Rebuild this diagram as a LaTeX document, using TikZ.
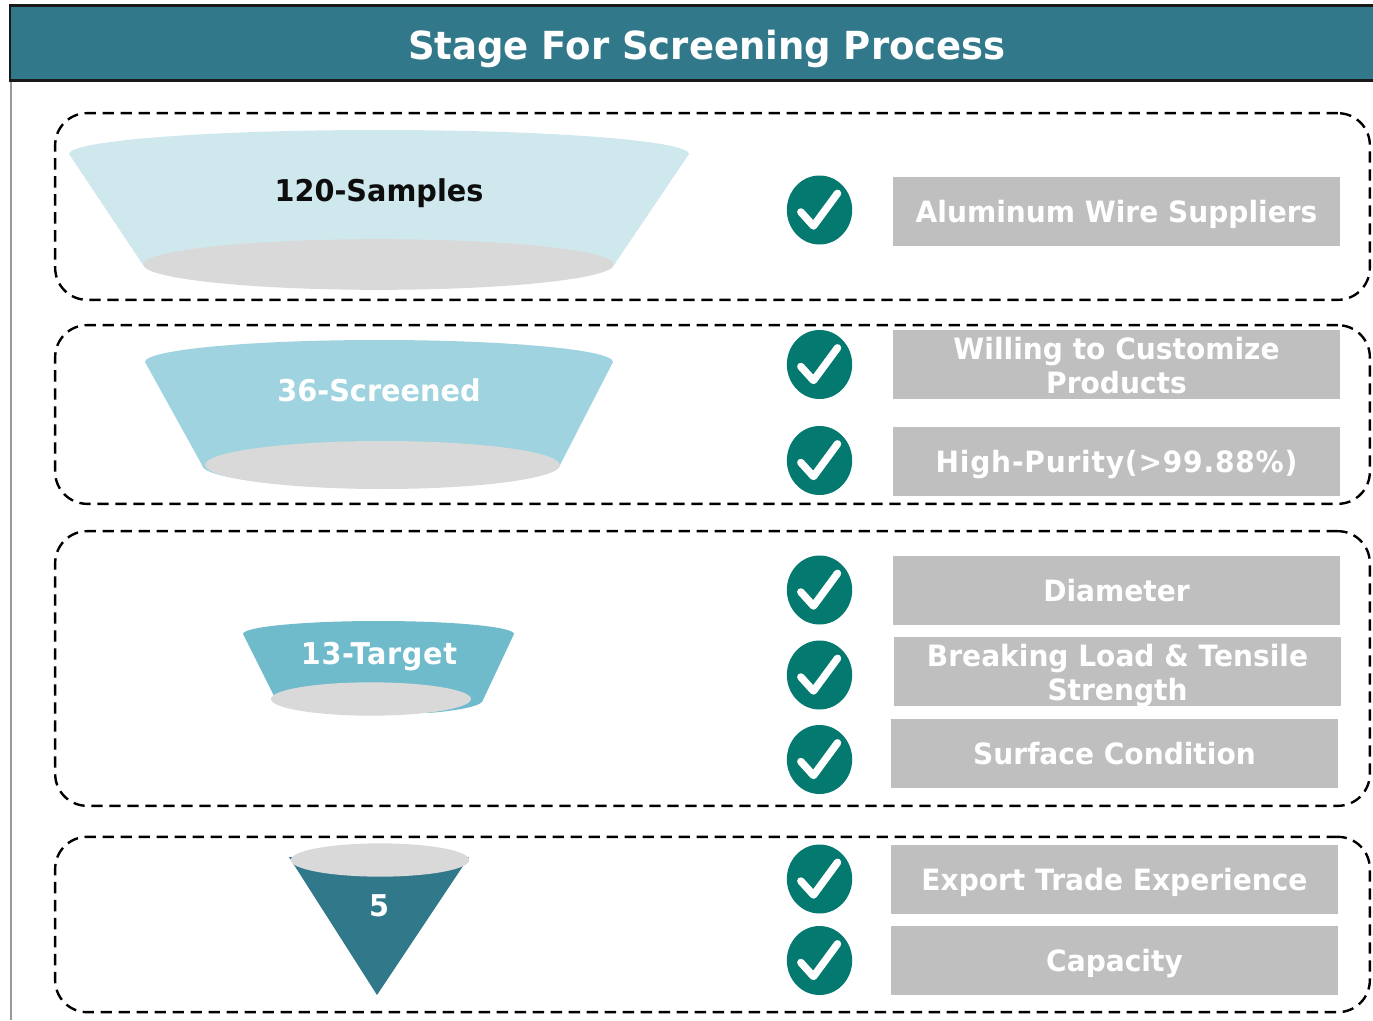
\documentclass[tikz,border=0pt]{standalone}
\usepackage{fontspec}
\setmainfont[FakeStretch=0.957]{DejaVu Sans}
\usetikzlibrary{shapes.geometric}
\definecolor{headteal}{HTML}{30788A}
\definecolor{funnelA}{HTML}{CFE8ED}
\definecolor{funnelB}{HTML}{9FD3DF}
\definecolor{funnelC}{HTML}{6FBBCC}
\definecolor{checkteal}{HTML}{03796F}
\definecolor{lidgray}{HTML}{D9D9D9}
\definecolor{tagray}{HTML}{BFBFBF}
\begin{document}
\begin{tikzpicture}[x=.75pt,y=-.75pt]
	\tikzset{stagebox/.style = {draw=black,line width=1.8pt,dash pattern=on 8.5pt off 5pt,rounded corners=24pt,minimum width=986pt,inner sep=0pt}}
	\tikzset{lid/.style = {shape=ellipse,fill=lidgray,inner sep=0pt}}
	\tikzset{stagelabel/.style = {font=\bfseries\fontsize{22.5}{24}\selectfont,text=white,text depth=0pt}}
	\tikzset{tag/.style = {fill=tagray,minimum width=335.25pt,minimum height=51.75pt,inner sep=0pt,align=center,text depth=0pt,font=\bfseries\fontsize{22}{25.5}\selectfont,text=white}}
	\tikzset{tagtext/.style = {font=\bfseries\fontsize{22}{25.5}\selectfont,text=white,align=center}}
	\tikzset{tick/.style = {shape=ellipse,fill=checkteal,minimum width=49pt,minimum height=51.75pt,inner sep=0pt,
		path picture={\draw[white,line width=5.6pt,line cap=round,line join=round]
			([shift={(-14pt,-1.5pt)}]path picture bounding box.center) -- ([shift={(-4.5pt,-12pt)}]path picture bounding box.center) -- ([shift={(13.5pt,12.5pt)}]path picture bounding box.center);}}}
	\useasboundingbox (0,0) rectangle (1373,1020);
	% Header
	\draw[gray!80,line width=1.5pt] (10.5,80) -- (10.5,1020);
	\fill[black!90] (9,4) rectangle (1373,82);
	\node[fill=headteal,minimum width=1021pt,minimum height=54.5pt,inner sep=0pt] (header) at (692,43) {};
	\node[font=\bfseries\fontsize{29}{32}\selectfont,text=white,text depth=0pt] (title) at (707,45) {Stage For Screening Process};
	% Dashed stage frames
	\node[stagebox,minimum height=140pt] (frameA) at (712.5,206.5) {};
	\node[stagebox,minimum height=134pt] (frameB) at (712.5,414.5) {};
	\node[stagebox,minimum height=206pt] (frameC) at (712.5,668.5) {};
	\node[stagebox,minimum height=131.5pt] (frameD) at (712.5,924.5) {};
	% Funnels
	\fill[funnelA] (69,154) arc[start angle=180,end angle=360,x radius=310,y radius=24] -- (614,265) -- (143,265) -- cycle;
	\node[lid,minimum width=353pt,minimum height=38pt] (lidA) at (378.5,264.5) {};
	\node[stagelabel,text=black!95] (samples) at (379,190) {120-Samples};
	\fill[funnelB] (145,362) arc[start angle=180,end angle=360,x radius=234,y radius=22] -- (560,465) arc[start angle=0,end angle=180,x radius=179,y radius=23] -- cycle;
	\node[lid,minimum width=266pt,minimum height=36pt] (lidB) at (382.5,465) {};
	\node[stagelabel] (screened) at (379,390) {36-Screened};
	\fill[funnelC] (243,634) arc[start angle=180,end angle=360,x radius=135.5,y radius=13] -- (483,700) arc[start angle=0,end angle=60,x radius=110,y radius=15] -- (274,696) -- cycle;
	\node[lid,minimum width=150pt,minimum height=25pt] (lidC) at (371,699) {};
	\node[stagelabel] (target) at (379,653) {\addfontfeature{LetterSpace=2.2}13-Target};
	\fill[headteal] (289,857) -- (469,857) -- (377,995) -- cycle;
	\node[lid,minimum width=134pt,minimum height=25pt] (lidD) at (380,860) {};
	\node[stagelabel] (five) at (379,906) {5};
	% Check marks
	\node[tick] (tickA) at (819.5,210) {};
	\node[tick] (tickB) at (819.5,364.5) {};
	\node[tick] (tickC) at (819.5,460.5) {};
	\node[tick] (tickD) at (819.5,590) {};
	\node[tick] (tickE) at (819.5,675) {};
	\node[tick] (tickF) at (819.5,759.5) {};
	\node[tick] (tickG) at (819.5,879) {};
	\node[tick] (tickH) at (819.5,960.5) {};
	% Criteria
	\node[tag] (suppliers) at (1116.5,211.5) {Aluminum Wire Suppliers};
	\node[tag] (customize) at (1116.5,364.5) {};
	\node[tagtext] (customizetext) at (1116.5,366) {Willing to Customize\\Products};
	\node[tag] (purity) at (1116.5,461.5) {\addfontfeature{LetterSpace=2.7}High-Purity(>99.88\%)};
	\node[tag] (diameter) at (1116.5,590.5) {Diameter};
	\node[tag] (breaking) at (1117.5,671.5) {};
	\node[tagtext] (breakingtext) at (1117.5,676) {Breaking Load \& Tensile\\Strength};
	\node[tag] (surface) at (1114.5,753.5) {Surface Condition};
	\node[tag] (export) at (1114.5,879.5) {Export Trade Experience};
	\node[tag] (capacity) at (1114.5,960.5) {Capacity};
\end{tikzpicture}
\end{document}
